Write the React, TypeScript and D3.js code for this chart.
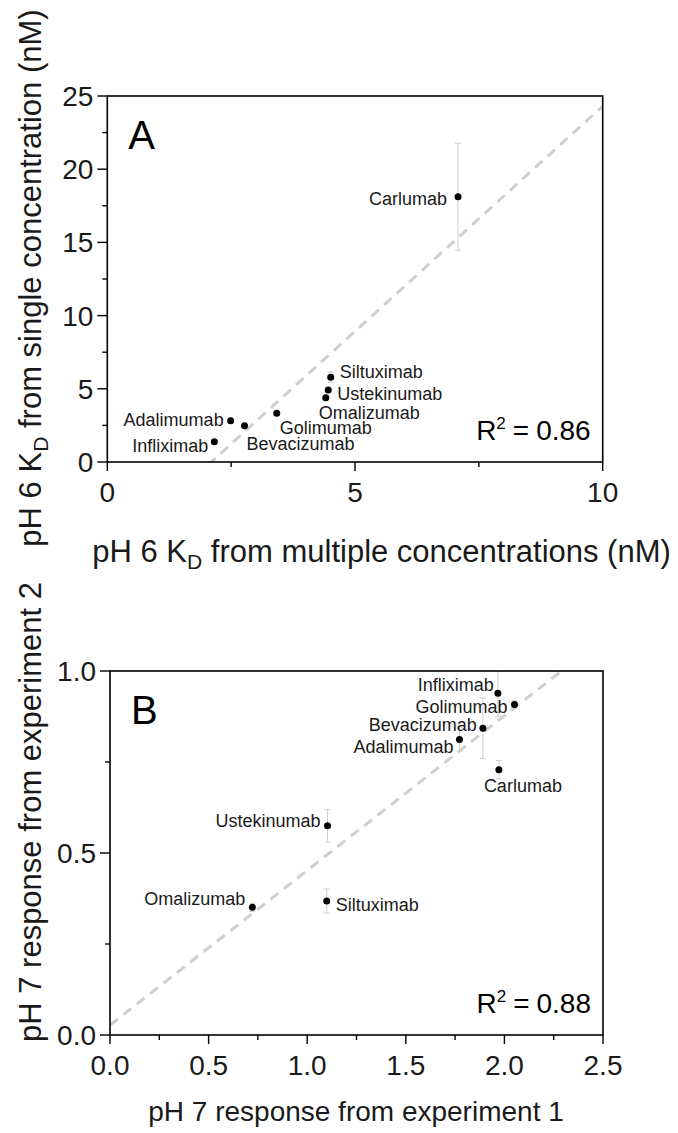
import React from 'react';
import * as d3 from 'd3';

// Panel A: pH 6 KD, single vs multiple concentrations (nM)
const namesA = ['Carlumab', 'Siltuximab', 'Ustekinumab', 'Omalizumab', 'Golimumab', 'Bevacizumab', 'Adalimumab', 'Infliximab'];
const kdMultiple = [7.08, 4.51, 4.46, 4.41, 3.42, 2.77, 2.49, 2.16];
const kdSingle = [18.12, 5.79, 4.92, 4.39, 3.33, 2.48, 2.82, 1.39];
const kdSingleErr = [3.65, 0.35, 0.12, 0.1, 0.1, 0.1, 0.1, 0.1];
const fitA = { slope: 3.075, intercept: -6.45, r2: '0.86' };
const xTicksA = [0, 5, 10];
const xMinorA = [2.5, 7.5];
const yTicksA = [0, 5, 10, 15, 20, 25];
const yMinorA = [2.5, 7.5, 12.5, 17.5, 22.5];

// Panel B: pH 7 response, experiment 1 vs experiment 2
const namesB = ['Infliximab', 'Golimumab', 'Bevacizumab', 'Adalimumab', 'Carlumab', 'Ustekinumab', 'Omalizumab', 'Siltuximab'];
const responseExp1 = [1.967, 2.051, 1.891, 1.772, 1.972, 1.103, 0.722, 1.099];
const responseExp2 = [0.939, 0.908, 0.843, 0.812, 0.729, 0.575, 0.351, 0.368];
const responseExp2Err = [0.065, 0.01, 0.083, 0.032, 0.025, 0.045, 0.011, 0.033];
const fitB = { slope: 0.425, intercept: 0.027, r2: '0.88' };
const xTicksB = [0, 0.5, 1.0, 1.5, 2.0, 2.5];
const xMinorB = [0.25, 0.75, 1.25, 1.75, 2.25];
const yTicksB = [0, 0.5, 1.0];
const yMinorB = [0.25, 0.75];

const FONT = '"Liberation Sans", Arial, Helvetica, sans-serif';
const INK = '#1a1a1a';
const GREY = '#cfcfcf';

type LabelPos = { anchor: 'start' | 'end'; dx: number; dy: number };

const labelPosA: Record<string, LabelPos> = {
  Carlumab: { anchor: 'end', dx: -11, dy: 8 },
  Siltuximab: { anchor: 'start', dx: 9, dy: 1 },
  Ustekinumab: { anchor: 'start', dx: 9, dy: 10 },
  Omalizumab: { anchor: 'start', dx: -7, dy: 21 },
  Golimumab: { anchor: 'start', dx: 3, dy: 21 },
  Bevacizumab: { anchor: 'start', dx: 2, dy: 24 },
  Adalimumab: { anchor: 'end', dx: -7, dy: 5 },
  Infliximab: { anchor: 'end', dx: -6, dy: 10 },
};

const labelPosB: Record<string, LabelPos> = {
  Infliximab: { anchor: 'end', dx: -4, dy: -2 },
  Golimumab: { anchor: 'end', dx: -7, dy: 9 },
  Bevacizumab: { anchor: 'end', dx: -6, dy: 3 },
  Adalimumab: { anchor: 'end', dx: -6, dy: 14 },
  Carlumab: { anchor: 'start', dx: -15, dy: 22 },
  Ustekinumab: { anchor: 'end', dx: -7, dy: 1 },
  Omalizumab: { anchor: 'end', dx: -7, dy: -2 },
  Siltuximab: { anchor: 'start', dx: 9, dy: 10 },
};

type PanelProps = {
  id: string;
  letter: string;
  box: { left: number; right: number; top: number; bottom: number };
  xDomain: [number, number];
  yDomain: [number, number];
  xTicks: number[];
  xMinor: number[];
  yTicks: number[];
  yMinor: number[];
  xFmt: (v: number) => string;
  yFmt: (v: number) => string;
  names: string[];
  xs: number[];
  ys: number[];
  errs: number[];
  fit: { slope: number; intercept: number; r2: string };
  labelPos: Record<string, LabelPos>;
  xTitle: React.ReactNode;
  xTitleX: number;
  xTitleY: number;
  xTitleSize: number;
  yTitle: React.ReactNode;
  yTitleX: number;
  yTitleY: number;
  yTitleSize: number;
};

function Panel(p: PanelProps) {
  const { box } = p;
  const x = d3.scaleLinear().domain(p.xDomain).range([box.left, box.right]);
  const y = d3.scaleLinear().domain(p.yDomain).range([box.bottom, box.top]);
  const fitLine = d3
    .line<number>()
    .x((v) => x(v))
    .y((v) => y(p.fit.slope * v + p.fit.intercept));
  const clipId = `clip-${p.id}`;
  return (
    <g>
      <defs>
        <clipPath id={clipId}>
          <rect x={box.left} y={box.top} width={box.right - box.left} height={box.bottom - box.top} />
        </clipPath>
      </defs>

      {/* regression line */}
      <path
        d={fitLine([p.xDomain[0], p.xDomain[1]]) || ''}
        clipPath={`url(#${clipId})`}
        fill="none"
        stroke={GREY}
        strokeWidth={3}
        strokeDasharray="10,7"
      />

      {/* error bars */}
      <g clipPath={`url(#${clipId})`} stroke={GREY} strokeWidth={1}>
        {p.xs.map((xv, i) => {
          const cx = x(xv);
          const y0 = y(p.ys[i] - p.errs[i]);
          const y1 = y(p.ys[i] + p.errs[i]);
          return (
            <g key={i}>
              <line x1={cx} x2={cx} y1={y0} y2={y1} />
              <line x1={cx - 3} x2={cx + 3} y1={y0} y2={y0} />
              <line x1={cx - 3} x2={cx + 3} y1={y1} y2={y1} />
            </g>
          );
        })}
      </g>

      {/* points and labels */}
      {p.xs.map((xv, i) => {
        const cx = x(xv);
        const cy = y(p.ys[i]);
        const lp = p.labelPos[p.names[i]];
        return (
          <g key={p.names[i]}>
            <circle cx={cx} cy={cy} r={3.5} fill="#000" />
            <text
              x={cx + lp.dx}
              y={cy + lp.dy}
              textAnchor={lp.anchor}
              fontFamily={FONT}
              fontSize={18}
              fill={INK}
            >
              {p.names[i]}
            </text>
          </g>
        );
      })}

      {/* frame */}
      <rect
        x={box.left}
        y={box.top}
        width={box.right - box.left}
        height={box.bottom - box.top}
        fill="none"
        stroke="#000"
        strokeWidth={1.6}
      />

      {/* axis ticks */}
      <g stroke="#000" strokeWidth={1.4}>
        {p.xTicks.map((t) => (
          <line key={`xt${t}`} x1={x(t)} x2={x(t)} y1={box.bottom} y2={box.bottom + 9} />
        ))}
        {p.xMinor.map((t) => (
          <line key={`xm${t}`} x1={x(t)} x2={x(t)} y1={box.bottom} y2={box.bottom + 5} />
        ))}
        {p.yTicks.map((t) => (
          <line key={`yt${t}`} x1={box.left - 10} x2={box.left} y1={y(t)} y2={y(t)} />
        ))}
        {p.yMinor.map((t) => (
          <line key={`ym${t}`} x1={box.left - 5} x2={box.left} y1={y(t)} y2={y(t)} />
        ))}
      </g>
      <g fontFamily={FONT} fontSize={28} fill={INK}>
        {p.xTicks.map((t) => (
          <text key={`xl${t}`} x={x(t)} y={box.bottom + 40} textAnchor="middle">
            {p.xFmt(t)}
          </text>
        ))}
        {p.yTicks.map((t) => (
          <text key={`yl${t}`} x={box.left - 14} y={y(t) + 10} textAnchor="end">
            {p.yFmt(t)}
          </text>
        ))}
      </g>

      {/* axis titles */}
      <text
        x={p.xTitleX}
        y={p.xTitleY}
        textAnchor="middle"
        fontFamily={FONT}
        fontSize={p.xTitleSize}
        fill={INK}
      >
        {p.xTitle}
      </text>
      <text
        transform={`translate(${p.yTitleX},${p.yTitleY}) rotate(-90)`}
        textAnchor="middle"
        fontFamily={FONT}
        fontSize={p.yTitleSize}
        fill={INK}
      >
        {p.yTitle}
      </text>

      {/* panel letter and fit quality */}
      <text x={box.left + 21} y={box.top + 53} fontFamily={FONT} fontSize={40} fill="#000">
        {p.letter}
      </text>
      <text x={box.right - 12} y={box.bottom - 22} textAnchor="end" fontFamily={FONT} fontSize={28} fill="#000">
        R<tspan fontSize={17} dy={-11}>2</tspan>
        <tspan dy={11} dx={7}>=</tspan>
        <tspan dx={7}>{p.fit.r2}</tspan>
      </text>
    </g>
  );
}

const kd = (size: number) => (
  <>
    K<tspan fontSize={size * 0.68} dy={size * 0.22}>D</tspan>
    <tspan dy={-size * 0.22}> </tspan>
  </>
);

export default function App() {
  return (
    <svg
      width={678}
      height={1133}
      viewBox="0 0 678 1133"
      style={{ position: 'absolute', left: 0, top: 0, background: '#fff' }}
    >
      <rect width={678} height={1133} fill="#fff" />
      <Panel
        id="a"
        letter="A"
        box={{ left: 107.3, right: 602.7, top: 96, bottom: 462 }}
        xDomain={[0, 10]}
        yDomain={[0, 25]}
        xTicks={xTicksA}
        xMinor={xMinorA}
        yTicks={yTicksA}
        yMinor={yMinorA}
        xFmt={(v) => String(v)}
        yFmt={(v) => String(v)}
        names={namesA}
        xs={kdMultiple}
        ys={kdSingle}
        errs={kdSingleErr}
        fit={fitA}
        labelPos={labelPosA}
        xTitle={<>pH 6 {kd(31)}from multiple concentrations (nM)</>}
        xTitleX={381.5}
        xTitleY={562}
        xTitleSize={31}
        yTitle={<>pH 6 {kd(31)}from single concentration (nM)</>}
        yTitleX={41}
        yTitleY={278}
        yTitleSize={31}
      />
      <Panel
        id="b"
        letter="B"
        box={{ left: 110, right: 603, top: 671, bottom: 1035 }}
        xDomain={[0, 2.5]}
        yDomain={[0, 1]}
        xTicks={xTicksB}
        xMinor={xMinorB}
        yTicks={yTicksB}
        yMinor={yMinorB}
        xFmt={(v) => d3.format('.1f')(v)}
        yFmt={(v) => d3.format('.1f')(v)}
        names={namesB}
        xs={responseExp1}
        ys={responseExp2}
        errs={responseExp2Err}
        fit={fitB}
        labelPos={labelPosB}
        xTitle="pH 7 response from experiment 1"
        xTitleX={356}
        xTitleY={1121}
        xTitleSize={28}
        yTitle="pH 7 response from experiment 2"
        yTitleX={41}
        yTitleY={812}
        yTitleSize={31}
      />
    </svg>
  );
}
